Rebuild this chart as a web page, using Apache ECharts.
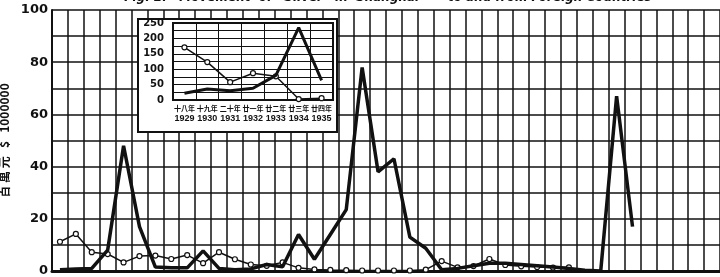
<!DOCTYPE html>
<html lang="en">
<head>
    <meta charset="UTF-8">
    <title>Movement of Silver in Shanghai</title>
    <script src="https://cdn.jsdelivr.net/npm/echarts@6/dist/echarts.min.js"></script>
    <style>
        html, body { margin: 0; padding: 0; background: #fff; }
        #main { width: 720px; height: 277px; }
    </style>
</head>
<body>
<div id="main"></div>
<script>
    /* 主图: 按月, 单位 百萬元 */
    var months = [];
    for (var i = 0; i < 42; i++) { months.push('m' + (i + 1)); }
    var thin_data = [11.2, 14.2, 7.2, 6.5, 3.3, 5.7, 5.9, 4.6, 6.1, 3.0,
                     7.2, 4.5, 2.5, 2.0, 3.3, 1.2, 0.6, 0.4, 0.3, 0.2,
                     0.2, 0.2, 0.2, 0.5, 3.8, 1.4, 1.9, 4.6, 2.3, 1.8,
                     1.5, 1.3, 1.4, null, null, null, null, null, null, null,
                     null, null];
    var thick_data = [0.5, 0.8, 1.0, 8, 48, 17, 1.5, 1.2, 1.2, 7.7,
                      1.0, 0.5, 0.8, 2.5, 1.6, 14, 4.5, 14, 23.5, 78,
                      38, 43, 13, 8.7, 0.5, 1.0, 2.0, 3.0, 3.0, 2.5,
                      2.0, 1.5, 1.0, 0.3, 0, 67, 17, null, null, null,
                      null, null];
    var main_ticks = [0, 20, 40, 60, 80, 100];

    /* 小图: 年度 */
    var year_cn = ['十八年', '十九年', '二十年', '廿一年', '廿二年', '廿三年', '廿四年'];
    var years = ['1929', '1930', '1931', '1932', '1933', '1934', '1935'];
    var inset_thin = [171, 123, 58, 87, 77, 3, 6];
    var inset_thick = [22, 36, 30, 38, 80, 235, 64];
    var inset_ticks = [0, 50, 100, 150, 200, 250];

    var ink = '#111';
    var font = 'DejaVu Sans';

    var option = {
        backgroundColor: '#fff',
        animation: false,
        graphic: [
            {
                type: 'text',
                x: 388, y: 4,
                style: {
                    text: "Fig. 2.   Movement  of  'Silver'  in  Shanghai  —  to and from Foreign Countries",
                    textAlign: 'center',
                    textVerticalAlign: 'bottom',
                    font: 'italic bold 12px "DejaVu Sans"',
                    fill: ink
                },
                z: 10
            },
            {
                type: 'rect',
                shape: { x: 138, y: 19, width: 199, height: 113 },
                style: { fill: '#fff', stroke: ink, lineWidth: 2 },
                z: 3
            }
        ],
        grid: [
            { left: 52, top: 10, right: 0, bottom: 6, outerBoundsMode: 'none', containLabel: false },
            { left: 173, top: 23, width: 160, height: 77, show: true, outerBoundsMode: 'none',
              containLabel: false, borderColor: ink, borderWidth: 2, backgroundColor: 'transparent', z: 6 }
        ],
        xAxis: [
            {
                type: 'category',
                gridIndex: 0,
                data: months,
                boundaryGap: true,
                axisLine: { lineStyle: { color: ink, width: 3 } },
                axisTick: { show: false },
                axisLabel: { show: false },
                splitLine: { show: true, interval: 0, lineStyle: { color: ink, width: 1.5 } }
            },
            {
                type: 'category',
                gridIndex: 1,
                data: years,
                boundaryGap: true,
                z: 5,
                axisLine: { lineStyle: { color: ink, width: 2 } },
                axisTick: { show: false },
                axisLabel: {
                    interval: 0, margin: 4,
                    formatter: function (v, idx) { return '{a|' + year_cn[idx] + '}\n{b|' + v + '}'; },
                    rich: {
                        a: { color: ink, fontSize: 7, fontFamily: 'Noto Sans CJK TC', fontWeight: 'bold', lineHeight: 9 },
                        b: { color: ink, fontSize: 9, fontFamily: 'Liberation Sans', fontWeight: 'bold', lineHeight: 11 }
                    }
                },
                splitLine: { show: true, interval: 0, lineStyle: { color: ink, width: 1 } }
            }
        ],
        yAxis: [
            {
                type: 'value',
                gridIndex: 0,
                min: 0, max: 100, interval: 10,
                name: '百 萬 元   $   1000000',
                nameLocation: 'middle',
                nameRotate: 90,
                nameGap: 18,
                nameTextStyle: { color: ink, fontSize: 12, fontFamily: 'Noto Sans CJK TC', fontWeight: 'bold' },
                axisLine: { show: true, lineStyle: { color: ink, width: 2 } },
                axisTick: { show: false },
                axisLabel: {
                    color: ink, fontSize: 13, fontWeight: 'bold', fontFamily: font, margin: 4,
                    formatter: function (v) { return main_ticks.indexOf(v) >= 0 ? v : ''; }
                },
                splitLine: { show: true, lineStyle: { color: ink, width: 1.5 } }
            },
            {
                type: 'value',
                gridIndex: 1,
                min: 0, max: 250, interval: 25,
                z: 5,
                axisLine: { show: true, lineStyle: { color: ink, width: 2 } },
                axisTick: { show: false },
                axisLabel: {
                    color: ink, fontSize: 10, fontWeight: 'bold', fontFamily: font, margin: 9,
                    formatter: function (v) { return inset_ticks.indexOf(v) >= 0 ? v : ''; }
                },
                splitLine: { show: true, lineStyle: { color: ink, width: 1 } }
            }
        ],
        series: [
            {
                name: 'thin',
                type: 'line',
                xAxisIndex: 0, yAxisIndex: 0,
                data: thin_data,
                symbol: 'circle',
                symbolSize: 5,
                showAllSymbol: true,
                lineStyle: { color: ink, width: 1.5 },
                itemStyle: { color: '#fff', borderColor: ink, borderWidth: 1.2 },
                z: 3
            },
            {
                name: 'thick',
                type: 'line',
                xAxisIndex: 0, yAxisIndex: 0,
                data: thick_data,
                symbol: 'none',
                lineStyle: { color: ink, width: 3.5 },
                z: 4
            },
            {
                name: 'inset_thin',
                type: 'line',
                xAxisIndex: 1, yAxisIndex: 1,
                data: inset_thin,
                symbol: 'circle',
                symbolSize: 5,
                lineStyle: { color: ink, width: 1.5 },
                itemStyle: { color: '#fff', borderColor: ink, borderWidth: 1.2 },
                z: 7
            },
            {
                name: 'inset_thick',
                type: 'line',
                xAxisIndex: 1, yAxisIndex: 1,
                data: inset_thick,
                symbol: 'none',
                lineStyle: { color: ink, width: 3 },
                z: 8
            }
        ]
    };
    var chart = echarts.init(document.getElementById('main'));
    chart.setOption(option);
</script>
</body>
</html>
